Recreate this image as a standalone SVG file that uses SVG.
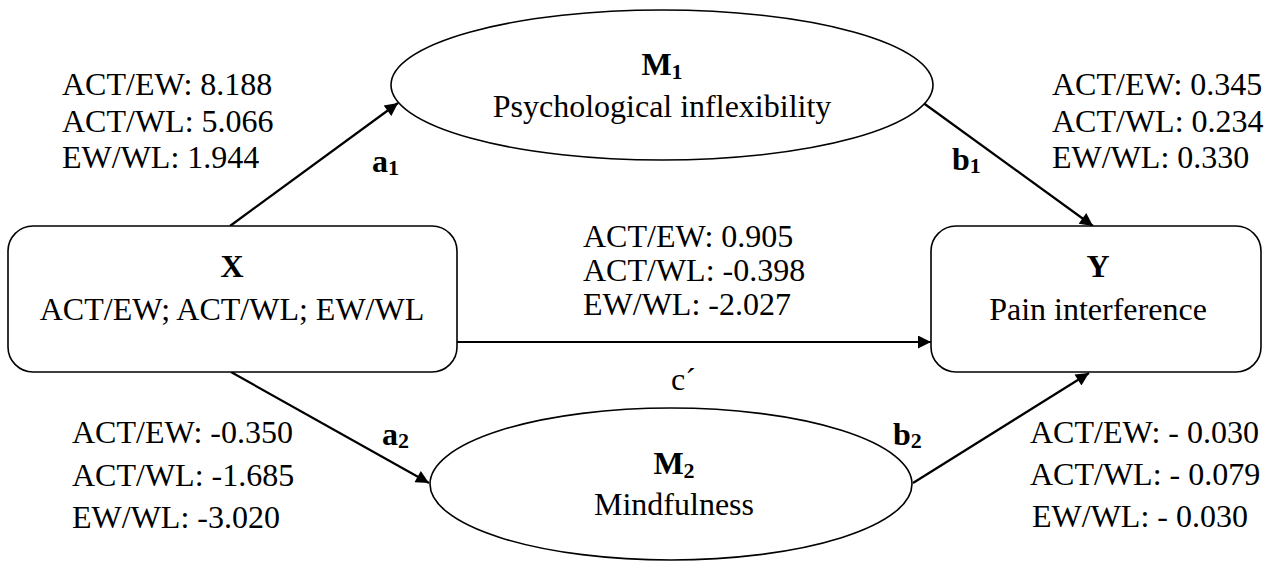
<svg xmlns="http://www.w3.org/2000/svg" width="1273" height="562" viewBox="0 0 1273 562">
<style>
text{font-family:'Liberation Serif','DejaVu Serif','Times New Roman',serif;font-size:32px;fill:#000}
.b{font-weight:bold}
.c{text-anchor:middle}
.shape{fill:#fff;stroke:#000;stroke-width:1.6}
.conn{stroke:#000;stroke-width:2.2;fill:none}
</style>
<defs>
<marker id="arr" viewBox="0 0 10 10" refX="10" refY="5" markerUnits="userSpaceOnUse" markerWidth="16" markerHeight="13" orient="auto">
<path d="M0,0 L10,5 L0,10 z" fill="#000"/>
</marker>
</defs>
<rect width="1273" height="562" fill="#fff"/>
<g id="connectors">
<line class="conn" x1="230" y1="226" x2="398" y2="103" marker-end="url(#arr)"/>
<line class="conn" x1="922" y1="102" x2="1093" y2="226" marker-end="url(#arr)"/>
<line class="conn" x1="457" y1="342" x2="931" y2="342" marker-end="url(#arr)"/>
<line class="conn" x1="231" y1="372" x2="429" y2="483" marker-end="url(#arr)"/>
<line class="conn" x1="913" y1="483" x2="1089" y2="373" marker-end="url(#arr)"/>
</g>
<g id="node-M1">
<ellipse class="shape" cx="662" cy="85" rx="271" ry="75"/>
<text class="c b" x="662" y="75">M<tspan font-size="22" dy="4">1</tspan></text>
<text class="c" x="662" y="117">Psychological inflexibility</text>
</g>
<g id="node-X">
<rect class="shape" x="8" y="226" width="449" height="146" rx="25" ry="25"/>
<text class="c b" x="232" y="277">X</text>
<text class="c" x="232" y="320">ACT/EW; ACT/WL; EW/WL</text>
</g>
<g id="node-Y">
<rect class="shape" x="931" y="226" width="330" height="146" rx="25" ry="25"/>
<text class="c b" x="1098" y="277">Y</text>
<text class="c" x="1098" y="320">Pain interference</text>
</g>
<g id="node-M2">
<ellipse class="shape" cx="671" cy="484" rx="241" ry="76"/>
<text class="c b" x="674" y="474">M<tspan font-size="22" dy="4">2</tspan></text>
<text class="c" x="674" y="515">Mindfulness</text>
</g>
<g id="labels">
<text x="62" y="95">ACT/EW: 8.188</text>
<text x="62" y="132">ACT/WL: 5.066</text>
<text x="62" y="168">EW/WL: 1.944</text>
<text class="b" x="372" y="172">a<tspan font-size="22" dy="3">1</tspan></text>
<text class="b" x="952" y="170">b<tspan font-size="22" dy="3">1</tspan></text>
<text x="1052" y="95">ACT/EW: 0.345</text>
<text x="1052" y="132">ACT/WL: 0.234</text>
<text x="1052" y="168">EW/WL: 0.330</text>
<text x="583" y="247">ACT/EW: 0.905</text>
<text x="583" y="281">ACT/WL: -0.398</text>
<text x="583" y="315">EW/WL: -2.027</text>
<text x="671" y="390">c´</text>
<text x="72" y="443">ACT/EW: -0.350</text>
<text x="72" y="486">ACT/WL: -1.685</text>
<text x="72" y="528">EW/WL: -3.020</text>
<text class="b" x="382" y="445">a<tspan font-size="22" dy="3">2</tspan></text>
<text class="b" x="893" y="445">b<tspan font-size="22" dy="3">2</tspan></text>
<text x="1030" y="443">ACT/EW: - 0.030</text>
<text x="1030" y="485">ACT/WL: - 0.079</text>
<text x="1032" y="527">EW/WL: - 0.030</text>
</g>
</svg>
